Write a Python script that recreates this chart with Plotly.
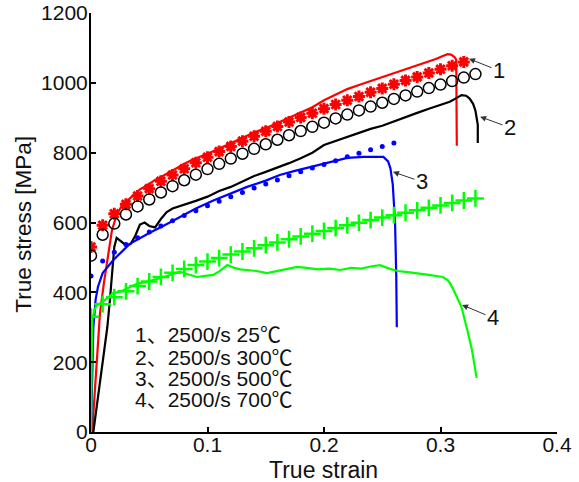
import plotly.graph_objects as go

# ---------------- data ----------------
model_strain = [0.00, 0.01, 0.02, 0.03, 0.04, 0.05, 0.06, 0.07, 0.08, 0.09, 0.10,
                0.11, 0.12, 0.13, 0.14, 0.15, 0.16, 0.17, 0.18, 0.19, 0.20, 0.21,
                0.22, 0.23, 0.24, 0.25, 0.26, 0.27, 0.28, 0.29, 0.30, 0.31, 0.32, 0.33]

stars_25C = [530, 592, 625, 652, 676, 697, 718, 736, 754, 771, 787, 803, 818, 833,
             847, 861, 875, 888, 901, 913, 926, 938, 950, 961, 973, 984, 996, 1007,
             1017, 1028, 1039, 1049, 1060]
circles_300C = [505, 565, 597, 623, 646, 666, 686, 704, 721, 737, 753, 768, 783, 797,
                811, 824, 837, 850, 862, 874, 886, 898, 909, 921, 932, 943, 954, 964,
                975, 985, 995, 1005, 1015, 1025]
dots_500C = [447, 490, 515, 537, 556, 573, 590, 605, 620, 634, 648, 661, 674, 686,
             699, 710, 722, 734, 745, 756, 766, 777, 788, 798, 808, 818, 828]
plus_700C = [330, 366, 386, 403, 418, 431, 444, 456, 467, 478, 488, 498, 508, 517,
             526, 535, 543, 552, 560, 568, 576, 584, 592, 599, 607, 614, 621, 628,
             635, 642, 649, 656, 663, 669]

exp1_strain = [0.001, 0.004, 0.0077, 0.011, 0.0137, 0.018, 0.022, 0.026, 0.031, 0.036,
               0.042, 0.048, 0.055, 0.062, 0.070, 0.078, 0.086, 0.094, 0.100, 0.110,
               0.120, 0.130, 0.140, 0.150, 0.160, 0.170, 0.180, 0.190, 0.200, 0.210,
               0.220, 0.230, 0.240, 0.250, 0.260, 0.270, 0.280, 0.290, 0.296, 0.302,
               0.306, 0.309, 0.312, 0.3135, 0.3135, 0.314]
exp1_stress = [0, 152, 340, 425, 484, 578, 622, 645, 662, 678, 695, 706, 722, 734,
               750, 764, 778, 788, 797, 812, 828, 842, 858, 870, 885, 899, 915, 930,
               950, 967, 982, 994, 1005, 1016, 1028, 1040, 1050, 1060, 1068, 1077,
               1082, 1081, 1074, 1066, 940, 820]

exp2_strain = [0.002, 0.006, 0.010, 0.014, 0.016, 0.018, 0.020, 0.022, 0.026, 0.030,
               0.034, 0.038, 0.042, 0.046, 0.050, 0.055, 0.060, 0.065, 0.070, 0.080,
               0.090, 0.100, 0.110, 0.120, 0.130, 0.140, 0.150, 0.160, 0.170, 0.180,
               0.190, 0.200, 0.210, 0.220, 0.230, 0.240, 0.250, 0.260, 0.270, 0.280,
               0.290, 0.300, 0.308, 0.314, 0.318, 0.322, 0.325, 0.328, 0.330, 0.331,
               0.332, 0.332]
exp2_stress = [0, 100, 200, 300, 370, 450, 530, 556, 545, 535, 538, 562, 594, 600,
               590, 586, 610, 630, 640, 650, 662, 674, 690, 702, 717, 733, 745, 757,
               770, 784, 800, 822, 834, 845, 858, 868, 877, 890, 902, 914, 926, 937,
               946, 957, 965, 963, 955, 940, 920, 900, 880, 828]

exp3_strain = [0.000, 0.001, 0.002, 0.004, 0.006, 0.010, 0.019, 0.033, 0.050, 0.062,
               0.076, 0.090, 0.105, 0.120, 0.134, 0.150, 0.162, 0.175, 0.190, 0.202,
               0.210, 0.220, 0.234, 0.245, 0.251, 0.255, 0.257, 0.259, 0.261, 0.262,
               0.2625]
exp3_stress = [0, 150, 300, 380, 416, 455, 492, 538, 570, 590, 614, 640, 663, 683,
               702, 720, 736, 748, 760, 771, 778, 785, 788, 789, 788, 775, 755, 710,
               600, 450, 300]

exp4_strain = [0.000, 0.0005, 0.001, 0.003, 0.005, 0.010, 0.015, 0.019, 0.025, 0.031,
               0.040, 0.048, 0.055, 0.062, 0.070, 0.076, 0.083, 0.091, 0.098, 0.105,
               0.111, 0.117, 0.123, 0.128, 0.134, 0.142, 0.151, 0.160, 0.168, 0.177,
               0.185, 0.195, 0.205, 0.214, 0.223, 0.232, 0.240, 0.248, 0.256, 0.263,
               0.272, 0.280, 0.290, 0.298, 0.302, 0.306, 0.308, 0.311, 0.314, 0.318,
               0.323, 0.327, 0.331]
exp4_stress = [0, 150, 320, 350, 364, 372, 388, 398, 402, 412, 425, 430, 436, 444,
               452, 459, 452, 444, 447, 450, 462, 478, 470, 466, 464, 461, 455, 462,
               468, 473, 470, 466, 468, 464, 470, 468, 474, 478, 468, 461, 458, 455,
               450, 446, 444, 435, 427, 408, 387, 358, 292, 235, 155]

legend_lines = ["1、2500/s 25℃", "2、2500/s 300℃", "3、2500/s 500℃", "4、2500/s 700℃"]
legend_y = [280, 213, 154, 92]

curve_labels = ["1", "2", "3", "4"]
label_head_x = [0.3245, 0.334, 0.2592, 0.3185]
label_head_y = [1069, 903, 745, 364]

x_ticks = [0, 0.1, 0.2, 0.3, 0.4]
x_tick_text = ["0", "0.1", "0.2", "0.3", "0.4"]
y_ticks = [0, 200, 400, 600, 800, 1000, 1200]

# ---------------- figure ----------------
FONT = "Liberation Sans, Arial, Noto Sans CJK SC, sans-serif"
RED, BLACK, BLUE, GREEN = "#ff0000", "#000000", "#0000ff", "#00ff00"

fig = go.Figure()

lw = 2.2
fig.add_trace(go.Scatter(x=exp1_strain, y=exp1_stress, mode="lines",
                         line=dict(color=RED, width=lw)))
fig.add_trace(go.Scatter(x=exp2_strain, y=exp2_stress, mode="lines",
                         line=dict(color=BLACK, width=lw)))
fig.add_trace(go.Scatter(x=exp3_strain, y=exp3_stress, mode="lines",
                         line=dict(color=BLUE, width=lw)))
fig.add_trace(go.Scatter(x=exp4_strain, y=exp4_stress, mode="lines",
                         line=dict(color=GREEN, width=lw)))

fig.add_trace(go.Scatter(x=model_strain[:len(stars_25C)], y=stars_25C, mode="markers",
                         marker=dict(symbol="asterisk-open", size=10, color=RED,
                                     line=dict(color=RED, width=3))))
fig.add_trace(go.Scatter(x=model_strain[:len(circles_300C)], y=circles_300C, mode="markers",
                         marker=dict(symbol="circle-open", size=11, color=BLACK,
                                     line=dict(color=BLACK, width=1.5))))
fig.add_trace(go.Scatter(x=model_strain[:len(dots_500C)], y=dots_500C, mode="markers",
                         marker=dict(symbol="circle", size=5, color=BLUE,
                                     line=dict(width=0))))
fig.add_trace(go.Scatter(x=model_strain[:len(plus_700C)], y=plus_700C, mode="markers",
                         marker=dict(symbol="cross-thin-open", size=12, color=GREEN,
                                     line=dict(color=GREEN, width=2.5))))

annotations = []
for txt, yv in zip(legend_lines, legend_y):
    annotations.append(dict(x=0.036, y=yv, xref="x", yref="y", text=txt,
                            showarrow=False, xanchor="left", yanchor="middle",
                            font=dict(family=FONT, size=21, color="#111111")))

offsets = [(30, 12), (30, 11), (29, 10), (31, 13)]
for lab, hx, hy, (ax, ay) in zip(curve_labels, label_head_x, label_head_y, offsets):
    annotations.append(dict(x=hx, y=hy, xref="x", yref="y", text=lab,
                            showarrow=True, ax=ax, ay=ay, arrowhead=2,
                            arrowsize=1.2, arrowwidth=1, arrowcolor="#333333",
                            font=dict(family=FONT, size=22, color="#111111")))

annotations.append(dict(x=0.498, y=-0.0895, xref="paper", yref="paper",
                        text="True strain", showarrow=False,
                        xanchor="center", yanchor="middle",
                        font=dict(family=FONT, size=23, color="#111111")))
annotations.append(dict(x=-0.144, y=0.497, xref="paper", yref="paper",
                        text="True stress [MPa]", showarrow=False, textangle=-90,
                        xanchor="center", yanchor="middle",
                        font=dict(family=FONT, size=22.5, color="#111111")))

fig.update_layout(
    template="none",
    width=579, height=482,
    margin=dict(l=91, r=22, t=13, b=50, autoexpand=False),
    paper_bgcolor="white", plot_bgcolor="white",
    showlegend=False,
    annotations=annotations,
    font=dict(family=FONT, size=21, color="#111111"),
)
fig.update_xaxes(range=[0, 0.4], tickvals=x_ticks, ticktext=x_tick_text,
                 automargin=False, ticklabeloverflow="allow", ticklabelstandoff=-7,
                 showgrid=False, zeroline=False, showline=True, linecolor="black",
                 linewidth=2, ticks="inside", ticklen=5, tickwidth=1.5,
                 tickcolor="black", tickfont=dict(size=21))
fig.update_yaxes(range=[0, 1200], tickvals=y_ticks,
                 automargin=False, ticklabeloverflow="allow", ticklabelstandoff=-3,
                 showgrid=False, zeroline=False, showline=True, linecolor="black",
                 linewidth=2, ticks="inside", ticklen=5, tickwidth=1.5,
                 tickcolor="black", tickfont=dict(size=21))

# remove the default 8px page margin so the figure fills the window exactly
fig.write_html("out.html",
               config={"displayModeBar": False},
               post_script="document.body.style.margin='0px';"
                           "document.body.style.overflow='hidden';")
